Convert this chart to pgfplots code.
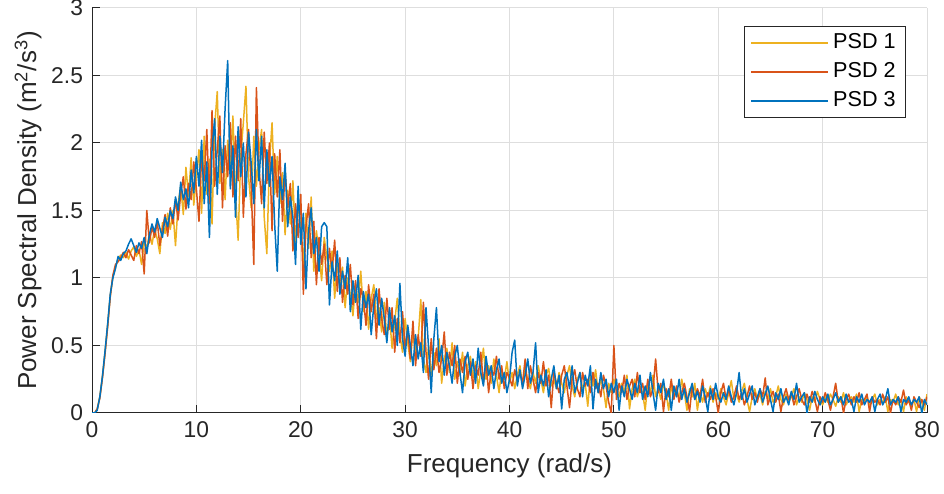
\documentclass[border=0pt]{standalone}
\usepackage{pgfplots}
\usepackage{pgfplotstable}
\pgfplotsset{compat=1.18}
\usepackage{fontspec}
\setmainfont{Liberation Sans}
\definecolor{myyel}{rgb}{0.929,0.694,0.125}
\definecolor{myora}{rgb}{0.850,0.325,0.098}
\definecolor{myblu}{rgb}{0,0.447,0.741}
\definecolor{axgray}{rgb}{0.15,0.15,0.15}
\pgfplotstableread{
x a b c
0 0 0 0
0.25 0.00 0.00 0.00
0.5 0.03 0.03 0.02
0.75 0.12 0.11 0.12
1.0 0.27 0.26 0.27
1.25 0.45 0.44 0.46
1.5 0.65 0.64 0.66
1.75 0.87 0.86 0.88
2.0 1.01 1.02 1.00
2.25 1.08 1.10 1.07
2.5 1.14 1.12 1.16
2.75 1.17 1.15 1.13
3.0 1.15 1.19 1.18
3.25 1.19 1.15 1.20
3.5 1.14 1.21 1.25
3.75 1.20 1.17 1.29
4.0 1.23 1.13 1.24
4.25 1.16 1.24 1.19
4.5 1.21 1.18 1.26
4.75 1.10 1.27 1.22
5.0 1.27 1.03 1.30
5.25 1.22 1.50 1.18
5.5 1.33 1.26 1.32
5.75 1.25 1.38 1.40
6.0 1.36 1.30 1.34
6.25 1.29 1.42 1.44
6.5 1.18 1.24 1.37
6.75 1.41 1.36 1.30
7.0 1.33 1.47 1.45
7.25 1.48 1.31 1.38
7.5 1.36 1.52 1.50
7.75 1.50 1.40 1.44
8.0 1.24 1.58 1.60
8.25 1.55 1.43 1.50
8.5 1.68 1.62 1.71
8.75 1.47 1.75 1.58
9.0 1.82 1.51 1.66
9.25 1.60 1.70 1.52
9.5 1.89 1.58 1.80
9.75 1.54 1.86 1.63
10.0 1.75 1.66 1.90
10.25 1.95 1.42 1.68
10.5 1.48 1.90 2.02
10.75 2.05 1.72 1.55
11.0 1.62 2.10 1.86
11.25 1.88 1.55 1.30
11.5 1.40 2.24 1.95
11.75 2.12 1.68 2.18
12.0 2.38 1.95 1.62
12.25 1.70 2.20 2.05
12.5 1.95 1.52 1.78
12.75 1.58 1.98 2.25
13.0 2.02 1.75 2.61
13.25 1.80 2.15 1.66
13.5 2.20 1.60 1.98
13.75 1.62 2.05 1.45
14.0 1.28 1.72 2.12
14.25 1.90 2.18 1.75
14.5 2.15 1.45 2.00
14.75 2.42 1.92 1.60
15.0 1.75 2.10 2.08
15.25 1.52 1.68 1.85
15.5 2.05 1.10 1.55
15.75 1.68 2.41 2.10
16.0 1.95 1.82 1.72
16.25 2.10 1.55 2.05
16.5 1.45 2.08 1.52
16.75 1.18 1.70 1.95
17.0 1.85 2.00 1.68
17.25 2.15 1.35 1.90
17.5 1.62 1.92 1.40
17.75 1.90 1.60 1.05
18.0 1.55 1.95 1.75
18.25 1.78 1.42 1.58
18.5 1.32 1.80 1.85
18.75 1.65 1.52 1.38
19.0 1.40 1.70 1.60
19.25 1.72 1.20 1.45
19.5 1.25 1.55 1.10
19.75 1.55 1.30 1.68
20.0 1.38 1.62 1.25
20.25 1.10 0.88 1.48
20.5 1.48 1.38 0.92
20.75 1.22 1.55 1.35
21.0 1.60 1.15 1.52
21.25 1.05 1.42 1.18
21.5 1.35 0.95 1.30
21.75 1.18 1.30 1.05
22.0 0.98 1.10 1.38
22.25 1.30 1.25 1.41
22.5 1.15 0.95 1.38
22.75 1.05 1.22 0.80
23.0 1.20 1.05 1.12
23.25 0.85 1.28 0.98
23.5 1.12 0.90 1.20
23.75 0.95 1.15 0.88
24.0 1.08 0.82 1.05
24.25 0.78 1.02 0.92
24.5 1.00 0.88 1.15
24.75 0.88 1.10 0.75
25.0 0.72 0.80 0.98
25.25 0.95 0.98 0.82
25.5 0.82 0.70 1.02
25.75 1.05 0.92 0.62
26.0 0.75 0.85 0.90
26.25 0.90 0.65 0.78
26.5 0.62 0.95 0.88
26.75 0.85 0.75 0.58
27.0 0.95 0.88 0.80
27.25 0.70 0.55 0.92
27.5 0.78 0.92 0.65
27.75 0.60 0.70 0.85
28.0 0.82 0.58 0.70
28.25 0.55 0.85 0.52
28.5 0.72 0.62 0.78
28.75 0.48 0.78 0.60
29.0 0.68 0.45 0.72
29.25 0.85 0.70 0.50
29.5 0.58 0.52 0.96
29.75 0.45 0.75 0.55
30.0 0.70 0.48 0.42
30.25 0.52 0.62 0.65
30.5 0.38 0.40 0.50
30.75 0.60 0.68 0.35
31.0 0.45 0.35 0.58
31.25 0.55 0.58 0.40
31.5 0.84 0.42 0.52
31.75 0.40 0.82 0.30
32.0 0.30 0.45 0.78
32.25 0.50 0.25 0.48
32.5 0.28 0.55 0.15
32.75 0.45 0.32 0.55
33.0 0.35 0.48 0.78
33.25 0.55 0.30 0.38
33.5 0.22 0.40 0.50
33.75 0.40 0.60 0.28
34.0 0.48 0.28 0.45
34.25 0.30 0.45 0.35
34.5 0.52 0.35 0.22
34.75 0.25 0.50 0.42
35.0 0.38 0.22 0.50
35.25 0.28 0.40 0.30
35.5 0.45 0.30 0.15
35.75 0.20 0.42 0.38
36.0 0.35 0.25 0.45
36.25 0.42 0.38 0.28
36.5 0.26 0.18 0.40
36.75 0.38 0.35 0.22
37.0 0.18 0.28 0.48
37.25 0.32 0.45 0.30
37.5 0.48 0.22 0.20
37.75 0.25 0.38 0.42
38.0 0.35 0.15 0.28
38.25 0.22 0.32 0.35
38.5 0.40 0.28 0.18
38.75 0.28 0.42 0.32
39.0 0.15 0.25 0.40
39.25 0.32 0.35 0.22
39.5 0.25 0.18 0.30
39.75 0.38 0.30 0.15
40.0 0.22 0.26 0.25
40.25 0.30 0.20 0.45
40.5 0.18 0.32 0.54
40.75 0.28 0.24 0.20
41.0 0.35 0.30 0.32
41.25 0.20 0.22 0.18
41.5 0.32 0.40 0.28
41.75 0.25 0.18 0.40
42.0 0.18 0.35 0.22
42.25 0.30 0.25 0.30
42.5 0.22 0.15 0.52
42.75 0.35 0.30 0.15
43.0 0.25 0.22 0.28
43.25 0.15 0.38 0.20
43.5 0.28 0.20 0.32
43.75 0.33 0.28 0.12
44.0 0.20 0.04 0.25
44.25 0.25 0.30 0.35
44.5 0.18 0.22 0.18
44.75 0.30 0.15 0.28
45.0 0.22 0.28 0.03
45.25 0.15 0.35 0.25
45.5 0.28 0.20 0.30
45.75 0.35 0.04 0.18
46.0 0.20 0.25 0.35
46.25 0.12 0.32 0.15
46.5 0.25 0.18 0.22
46.75 0.30 0.12 0.30
47.0 0.18 0.30 0.12
47.25 0.22 0.20 0.28
47.5 0.05 0.25 0.20
47.75 0.28 0.15 0.35
48.0 0.20 0.30 0.03
48.25 0.32 0.18 0.25
48.5 0.15 0.22 0.15
48.75 0.25 0.12 0.30
49.0 0.18 0.28 0.18
49.25 0.04 0.20 0.25
49.5 0.22 0.08 0.12
49.75 0.15 0.00 0.22
50.0 0.25 0.50 0.15
50.25 0.18 0.10 0.25
50.5 0.12 0.22 0.02
50.75 0.22 0.15 0.20
51.0 0.15 0.28 0.12
51.25 0.28 0.10 0.25
51.5 0.03 0.20 0.18
51.75 0.18 0.25 0.10
52.0 0.25 0.12 0.22
52.25 0.12 0.30 0.15
52.5 0.20 0.15 0.28
52.75 0.15 0.22 0.10
53.0 0.02 0.10 0.20
53.25 0.22 0.25 0.12
53.5 0.15 0.12 0.30
53.75 0.28 0.18 0.15
54.0 0.12 0.40 0.02
54.25 0.18 0.15 0.22
54.5 0.10 0.22 0.15
54.75 0.22 0.01 0.25
55.0 0.15 0.18 0.10
55.25 0.02 0.12 0.18
55.5 0.20 0.25 0.02
55.75 0.12 0.10 0.20
56.0 0.18 0.20 0.12
56.25 0.10 0.08 0.25
56.5 0.25 0.15 0.10
56.75 0.15 0.22 0.18
57.0 0.02 0.12 0.08
57.25 0.18 0.01 0.15
57.5 0.12 0.20 0.22
57.75 0.22 0.10 0.10
58.0 0.02 0.18 0.16
58.25 0.15 0.12 0.08
58.5 0.08 0.25 0.20
58.75 0.18 0.08 0.12
59.0 0.12 0.15 0.01
59.25 0.20 0.10 0.18
59.5 0.08 0.18 0.10
59.75 0.15 0.12 0.22
60.0 0.10 0.00 0.12
60.25 0.18 0.15 0.08
60.5 0.12 0.22 0.15
60.75 0.06 0.10 0.10
61.0 0.15 0.18 0.20
61.25 0.24 0.08 0.12
61.5 0.10 0.12 0.06
61.75 0.14 0.20 0.15
62.0 0.08 0.10 0.30
62.25 0.16 0.15 0.10
62.5 0.22 0.06 0.18
62.75 0.10 0.12 0.08
63.0 0.01 0.20 0.14
63.25 0.12 0.10 0.20
63.5 0.18 0.15 0.06
63.75 0.10 0.08 0.12
64.0 0.14 0.18 0.18
64.25 0.06 0.12 0.08
64.5 0.16 0.26 0.14
64.75 0.10 0.06 0.20
65.0 0.18 0.12 0.10
65.25 0.08 0.16 0.01
65.5 0.12 0.08 0.15
65.75 0.20 0.14 0.10
66.0 0.10 0.01 0.18
66.25 0.06 0.12 0.08
66.5 0.14 0.18 0.12
66.75 0.08 0.10 0.06
67.0 0.12 0.15 0.16
67.25 0.18 0.06 0.10
67.5 0.06 0.12 0.22
67.75 0.12 0.18 0.08
68.0 0.08 0.10 0.12
68.25 0.15 0.06 0.15
68.5 0.10 0.14 0.00
68.75 0.02 0.08 0.12
69.0 0.12 0.16 0.08
69.25 0.08 0.10 0.16
69.5 0.16 0.01 0.10
69.75 0.10 0.12 0.06
70.0 0.06 0.08 0.12
70.25 0.12 0.15 0.08
70.5 0.08 0.10 0.14
70.75 0.14 0.02 0.06
71.0 0.10 0.12 0.10
71.25 0.05 0.22 0.15
71.5 0.12 0.08 0.08
71.75 0.08 0.12 0.12
72.0 0.15 0.00 0.06
72.25 0.06 0.10 0.14
72.5 0.10 0.14 0.08
72.75 0.12 0.06 0.10
73.0 0.08 0.12 0.01
73.25 0.14 0.08 0.12
73.5 0.01 0.15 0.08
73.75 0.10 0.06 0.14
74.0 0.08 0.10 0.06
74.25 0.12 0.14 0.10
74.5 0.06 0.01 0.08
74.75 0.10 0.12 0.12
75.0 0.14 0.08 0.01
75.25 0.06 0.10 0.10
75.5 0.10 0.06 0.14
75.75 0.08 0.14 0.06
76.0 0.12 0.08 0.10
76.25 0.01 0.12 0.18
76.5 0.10 0.00 0.06
76.75 0.08 0.10 0.10
77.0 0.14 0.06 0.08
77.25 0.06 0.12 0.12
77.5 0.10 0.08 0.01
77.75 0.01 0.17 0.10
78.0 0.12 0.06 0.08
78.25 0.08 0.10 0.12
78.5 0.06 0.02 0.06
78.75 0.10 0.12 0.10
79.0 0.01 0.08 0.08
79.25 0.12 0.04 0.12
79.5 0.08 0.10 0.00
79.75 0.02 0.06 0.10
80.0 0.14 0.12 0.06
}\psd
\begin{document}
\begin{tikzpicture}
\begin{axis}[
  scale only axis,
  width=417.5pt, height=202.5pt,
  xmin=0, xmax=80, ymin=0, ymax=3,
  enlargelimits=false,
  axis x line=bottom, axis y line=left,
  axis line style={draw=axgray, line width=0.5pt, -},
  xtick={0,10,...,80},
  ytick={0,0.5,1,1.5,2,2.5,3},
  tick align=inside,
  major tick length=4pt,
  tick style={draw=axgray, line width=0.5pt},
  grid=major,
  major grid style={draw=black!13, line width=0.5pt},
  /pgf/number format/assume math mode=true,
  ticklabel style={font=\fontsize{11.4}{13}\selectfont, text=axgray},
  xticklabel style={yshift=-1pt},
  yticklabel style={xshift=-1pt},
  xlabel={Frequency (rad/s)},
  ylabel={Power Spectral Density (m\textsuperscript{2}/s\textsuperscript{3})},
  label style={font=\fontsize{13}{15}\selectfont, text=axgray},
  xlabel style={at={(axis description cs:0.5,-0.1309)}, anchor=center},
  ylabel style={at={(axis description cs:-0.0766,0.5)}, anchor=center, rotate=0},
  legend image code/.code={\draw[#1, line width=0.9pt] (0pt,0pt) -- (38.5pt,0pt);},
  legend style={draw=axgray, line width=0.5pt, fill=white,
    font=\fontsize{10.8}{12}\selectfont,
    at={(rel axis cs:0.975,0.9556)}, anchor=north east,
    inner xsep=3pt, inner ysep=3.6pt, row sep=4.8pt,
    nodes={inner xsep=2pt, inner ysep=0pt, text height=7.6pt, text depth=2pt}},
  legend cell align=left,
  every axis plot/.append style={line width=0.75pt, line join=round},
]
\addplot[myyel] table[x=x, y=a]{\psd};
\addplot[myora] table[x=x, y=b]{\psd};
\addplot[myblu] table[x=x, y=c]{\psd};
\legend{PSD 1, PSD 2, PSD 3}
\end{axis}
\pgfresetboundingbox
\path ([shift={(-46pt,-40.5pt)}]current axis.south west) rectangle ([shift={(8.5pt,4pt)}]current axis.north east);
\end{tikzpicture}
\end{document}
